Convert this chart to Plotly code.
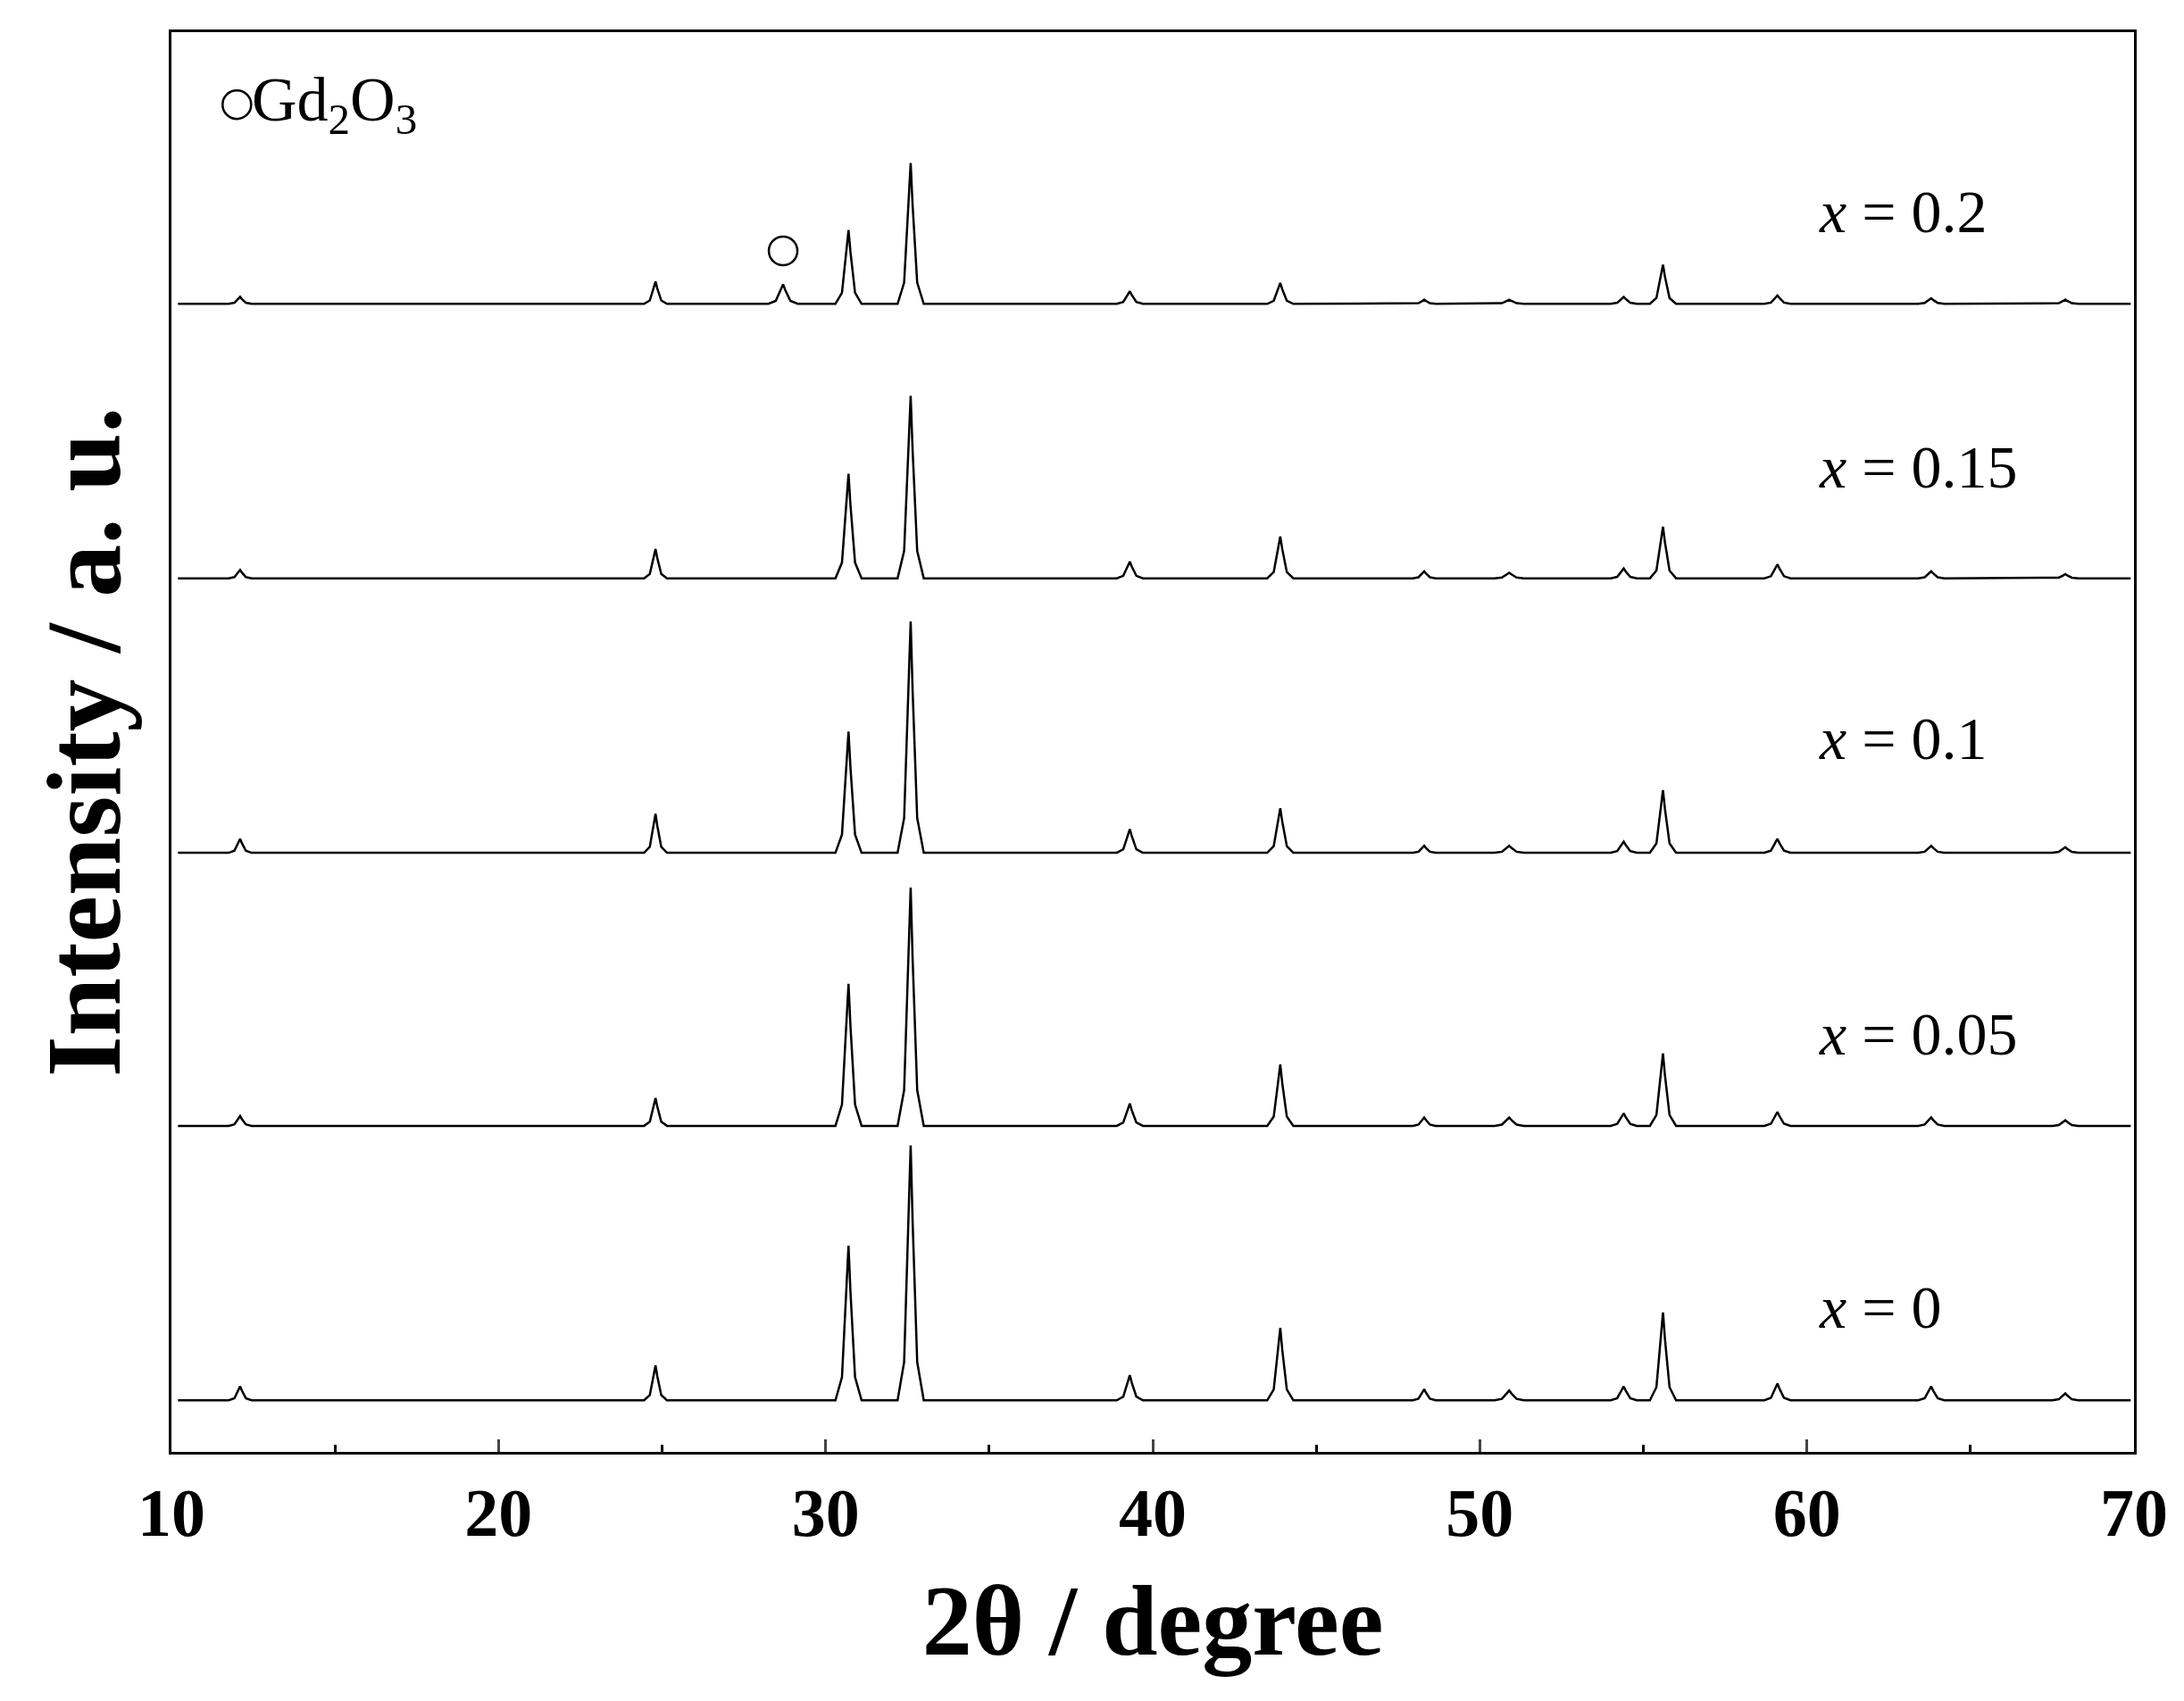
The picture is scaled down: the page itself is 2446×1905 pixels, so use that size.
import plotly.graph_objects as go

labels = ["x = 0", "x = 0.05", "x = 0.1", "x = 0.15", "x = 0.2"]
offsets = [37, 234, 430, 627, 824]
peak_pos = [12.1, 24.8, 28.7, 30.7, 32.6, 39.3, 43.9, 48.3, 50.9, 54.4, 55.6, 59.1, 63.8, 67.9]
heights = {
    "x = 0":    [10, 25, 0, 111, 183, 18, 52, 8, 7, 10, 63, 12, 10, 5],
    "x = 0.05": [7, 20, 0, 102, 171, 16, 44, 6, 6, 9, 52, 10, 6, 4],
    "x = 0.1":  [10, 28, 0, 87, 166, 17, 32, 5, 5, 8, 45, 10, 5, 4],
    "x = 0.15": [6, 21, 0, 75, 131, 12, 30, 5, 4, 7, 37, 10, 5, 3],
    "x = 0.2":  [5, 16, 14, 53, 101, 9, 15, 3, 3, 5, 28, 6, 4, 3],
}
widths = [0.35, 0.35, 0.45, 0.4, 0.4, 0.4, 0.4, 0.35, 0.45, 0.4, 0.4, 0.4, 0.4, 0.4]
label_y = [104, 300, 512, 707, 890]
gd_marker = (28.7, 862)

fig = go.Figure()
for lab, off in zip(labels, offsets):
    xs, ys = [10.2], [off]
    for p, h, w in zip(peak_pos, heights[lab], widths):
        if h <= 0:
            continue
        xs += [p - w, p - w * 0.5, p - w * 0.15, p, p + w * 0.15, p + w * 0.5, p + w]
        ys += [off, off + h * 0.15, off + h * 0.7, off + h, off + h * 0.7, off + h * 0.15, off]
    xs.append(69.9); ys.append(off)
    fig.add_trace(go.Scatter(x=xs, y=ys, mode="lines", line=dict(color="black", width=2.5), showlegend=False))

for lab, ly in zip(labels, label_y):
    t = lab.replace("x", "<i>x</i>", 1)
    fig.add_annotation(x=60.3, y=ly, text=t, showarrow=False, xanchor="left",
                       font=dict(family="Liberation Serif", size=68, color="black"))

fig.add_trace(go.Scatter(x=[gd_marker[0], 12.0], y=[gd_marker[1], 967], mode="markers",
                         marker=dict(symbol="circle-open", size=32, color="black", line=dict(width=2.5)),
                         showlegend=False))
fig.add_annotation(x=12.4, y=967, text="Gd<sub>2</sub>O<sub>3</sub>", showarrow=False, xanchor="left",
                   font=dict(family="Liberation Serif", size=70, color="black"))

fig.update_layout(
    width=2446, height=1905, plot_bgcolor="white", paper_bgcolor="white",
    margin=dict(l=184, r=64, t=28, b=287),
    font=dict(family="Liberation Serif", color="black"),
)
fig.update_xaxes(range=[10, 70], tickvals=[10, 20, 30, 40, 50, 60, 70],
                 ticks="inside", ticklen=14, tickwidth=3, showline=True, linewidth=3,
                 linecolor="black", mirror=True, showgrid=False, zeroline=False,
                 minor=dict(dtick=5, tick0=10, ticks="inside", ticklen=8, tickwidth=3, tickcolor="black"),
                 tickfont=dict(family="Liberation Serif", size=76, color="black", weight="bold"),
                 title=dict(text="<b>2θ / degree</b>", font=dict(family="Liberation Serif", size=112), standoff=40))
fig.update_yaxes(range=[0, 1019], showticklabels=False, ticks="", showline=True, linewidth=3,
                 linecolor="black", mirror=True, showgrid=False, zeroline=False,
                 title=dict(text="<b>Intensity / a. u.</b>", font=dict(family="Liberation Serif", size=118), standoff=15))
fig.write_html("out.html")
